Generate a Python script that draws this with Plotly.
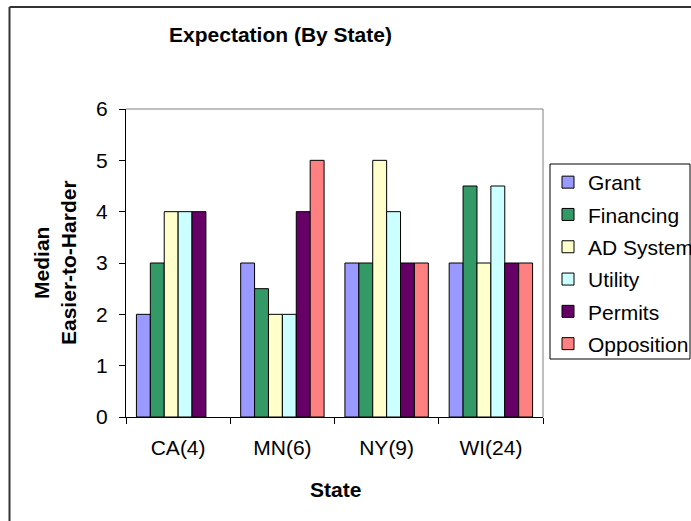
import plotly.graph_objects as go

# Median easier-to-harder ratings per state (sample size in parentheses)
states = ["CA(4)", "MN(6)", "NY(9)", "WI(24)"]
series = ["Grant", "Financing", "AD System", "Utility", "Permits", "Opposition"]
grant = [2, 3, 3, 3]
financing = [3, 2.5, 3, 4.5]
ad_system = [4, 2, 5, 3]
utility = [4, 2, 4, 4.5]
permits = [4, 4, 3, 3]
opposition = [None, 5, 3, 3]
colors = ["#9999FF", "#339966", "#FFFFCC", "#CCFFFF", "#660066", "#FF8080"]

values = [grant, financing, ad_system, utility, permits, opposition]

W, H = 691, 521
# plot area in pixels
PL, PR, PT, PB = 126, 543, 109, 417

FONT = "Arial, Liberation Sans, sans-serif"

fig = go.Figure()
for name, vals, col in zip(series, values, colors):
    fig.add_trace(go.Bar(
        name=name, x=states, y=vals,
        marker=dict(color=col, line=dict(color="black", width=1)),
        legendgroup=name,
    ))


def px_x(p):
    return (p - PL) / (PR - PL)


def px_y(p):
    return (PB - p) / (PB - PT)


shapes = [
    # plot area frame (top and right)
    dict(type="line", xref="paper", yref="paper", x0=0, x1=1, y0=1, y1=1,
         line=dict(color="#808080", width=1)),
    dict(type="line", xref="paper", yref="paper", x0=1, x1=1, y0=0, y1=1,
         line=dict(color="#808080", width=1)),
    # chart frame
    dict(type="line", xref="paper", yref="paper", x0=px_x(9.5), x1=px_x(700),
         y0=px_y(7), y1=px_y(7), line=dict(color="#333333", width=2)),
    dict(type="line", xref="paper", yref="paper", x0=px_x(9.5), x1=px_x(9.5),
         y0=px_y(7), y1=px_y(530), line=dict(color="#333333", width=2)),
    # legend frame
    dict(type="rect", xref="paper", yref="paper", x0=px_x(550), x1=px_x(690),
         y0=px_y(164), y1=px_y(359), line=dict(color="black", width=1)),
]

annotations = [
    dict(text="<b>Median<br>Easier-to-Harder</b>", textangle=-90,
         xref="paper", yref="paper", x=px_x(55), y=px_y(263),
         xanchor="center", yanchor="middle", showarrow=False,
         font=dict(family=FONT, size=21, color="black")),
    dict(text="<b>State</b>", xref="paper", yref="paper",
         x=px_x(335), y=px_y(489), xanchor="center", yanchor="middle",
         showarrow=False, font=dict(family=FONT, size=21, color="black")),
]

fig.update_layout(
    width=W, height=H,
    margin=dict(l=PL, r=W - PR, t=PT, b=H - PB, pad=0, autoexpand=False),
    paper_bgcolor="white", plot_bgcolor="white",
    font=dict(family=FONT, size=21, color="black"),
    title=dict(text="<b>Expectation (By State)</b>", xref="container", yref="container",
               x=280.5 / W, y=1 - 35 / H, xanchor="center", yanchor="middle",
               font=dict(family=FONT, size=21, color="black")),
    barmode="group", bargap=0.2, bargroupgap=0,
    xaxis=dict(showline=True, linecolor="black", linewidth=1, ticks="outside",
               tickson="boundaries", ticklen=6, tickcolor="black", showgrid=False,
               ticklabelstandoff=12, fixedrange=True),
    yaxis=dict(range=[0, 6], dtick=1, showline=True, linecolor="black", linewidth=1,
               ticks="outside", ticklen=6, tickcolor="black", showgrid=False,
               zeroline=False, ticklabelstandoff=7, fixedrange=True),
    legend=dict(x=px_x(548), y=px_y(162), xanchor="left", yanchor="top",
                bgcolor="rgba(0,0,0,0)", borderwidth=0, tracegroupgap=2,
                font=dict(family=FONT, size=21, color="black")),
    shapes=shapes,
    annotations=annotations,
)

fig.write_html("out.html")
